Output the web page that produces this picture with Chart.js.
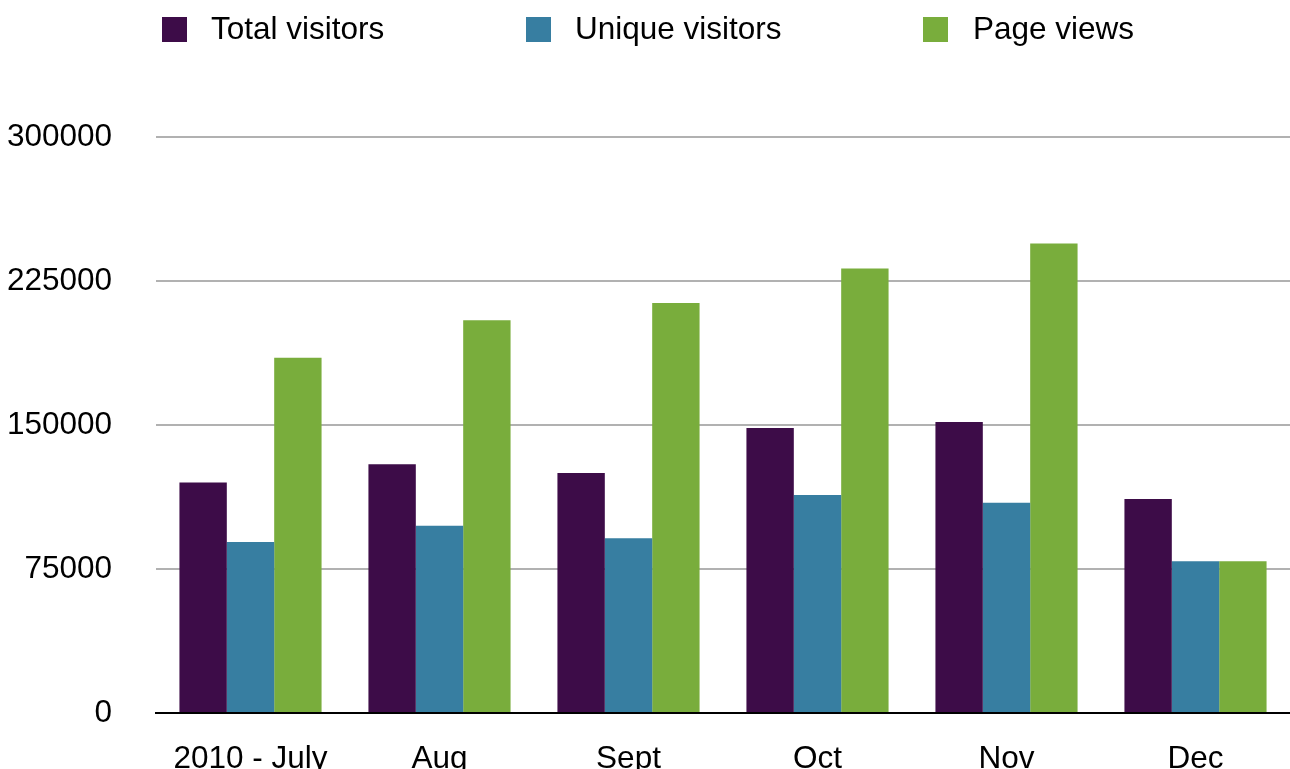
<!DOCTYPE html>
<html>
<head>
<meta charset="utf-8">
<script src="https://cdn.jsdelivr.net/npm/chart.js@4.4.1/dist/chart.umd.min.js"></script>
<style>
    html, body { margin: 0; padding: 0; background: #fff; overflow: hidden; }
    #wrap { position: relative; width: 1290px; height: 769px; overflow: hidden; }
    #visitorsChart { display: block; width: 1290px; height: 769px; }
    #legend { position: absolute; left: 0; top: 0; width: 1290px; height: 60px; font-family: "Liberation Sans", Arial, sans-serif; font-size: 31.5px; color: #000; }
    .lg-box { position: absolute; top: 17px; width: 25px; height: 25px; }
    .lg-text { position: absolute; top: 13px; line-height: 31px; white-space: nowrap; }
</style>
</head>
<body>
<div id="wrap">
    <canvas id="visitorsChart" width="1290" height="769"></canvas>
    <div id="legend"></div>
</div>
<script>
// Chart data
const months = ['2010 - July', 'Aug', 'Sept', 'Oct', 'Nov', 'Dec'];
const totalVisitors = [120000, 129500, 125000, 148500, 151500, 111500];
const uniqueVisitors = [89000, 97500, 91000, 113500, 109500, 79000];
const pageViews = [185000, 204500, 213500, 231500, 244500, 79000];
const yTicks = [0, 75000, 150000, 225000, 300000];

const seriesNames = ['Total visitors', 'Unique visitors', 'Page views'];
const seriesColors = ['#3d0c48', '#377ea1', '#79ad3c'];

// Legend positions (box left, text left)
const legendBoxX = [162, 526, 923];
const legendTextX = [211, 575, 973];

const FONT = '"Liberation Sans", Arial, sans-serif';

// Build HTML legend
function buildLegend() {
    const legend = document.getElementById('legend');
    seriesNames.forEach((name, i) => {
        const box = document.createElement('div');
        box.className = 'lg-box';
        box.style.left = legendBoxX[i] + 'px';
        box.style.background = seriesColors[i];
        legend.appendChild(box);

        const text = document.createElement('div');
        text.className = 'lg-text';
        text.style.left = legendTextX[i] + 'px';
        text.textContent = name;
        legend.appendChild(text);
    });
}

function initChart() {
    const ctx = document.getElementById('visitorsChart');
    const seriesData = [totalVisitors, uniqueVisitors, pageViews];

    new Chart(ctx, {
        type: 'bar',
        data: {
            labels: months,
            datasets: seriesNames.map((name, i) => ({
                label: name,
                data: seriesData[i],
                backgroundColor: seriesColors[i],
                borderWidth: 0,
                categoryPercentage: 0.752,
                barPercentage: 1.0
            }))
        },
        options: {
            responsive: false,
            animation: false,
            layout: { padding: { top: 137, left: 0, right: 0, bottom: 0 } },
            plugins: {
                legend: { display: false },
                tooltip: { enabled: false }
            },
            scales: {
                x: {
                    grid: { display: false },
                    border: { display: true, color: '#000', width: 2 },
                    ticks: {
                        color: '#000',
                        font: { family: FONT, size: 31.5 },
                        padding: 19,
                        maxRotation: 0,
                        autoSkip: false
                    },
                    afterFit: function (scale) { scale.height = 56; }
                },
                y: {
                    min: 0,
                    max: 300000,
                    afterBuildTicks: function (scale) {
                        scale.ticks = yTicks.map(v => ({ value: v }));
                    },
                    grid: {
                        // invisible tick marks keep the labels away from the plot
                        drawTicks: true,
                        tickLength: 40,
                        tickColor: 'rgba(0,0,0,0)',
                        lineWidth: 2,
                        color: c => (c.tick && c.tick.value === 0) ? 'rgba(0,0,0,0)' : '#b1b1b1'
                    },
                    border: { display: false },
                    ticks: {
                        color: '#000',
                        font: { family: FONT, size: 31.5 },
                        padding: 4,
                        callback: v => String(v)
                    },
                    afterFit: function (scale) { scale.width = 156; }
                }
            }
        }
    });
}

buildLegend();
initChart();
</script>
</body>
</html>
